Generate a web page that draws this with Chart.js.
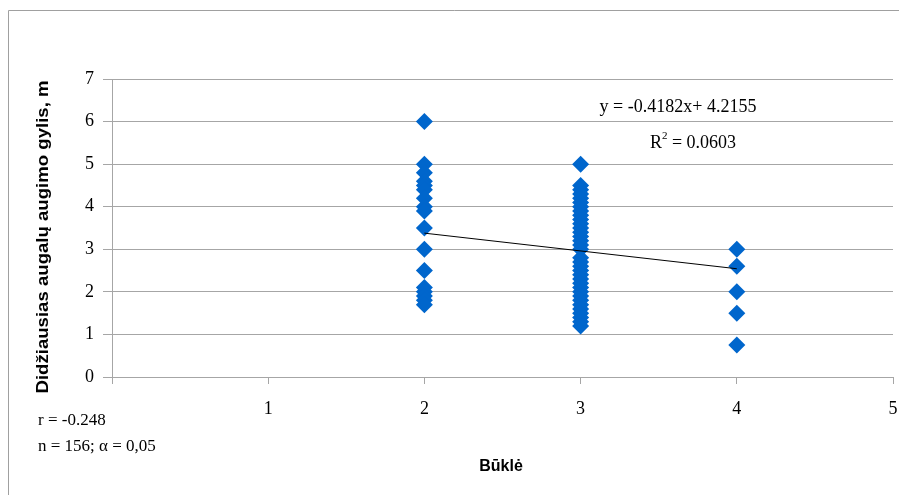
<!DOCTYPE html>
<html lang="lt">
<head>
  <meta charset="UTF-8">
  <title>Būklė ir augimo gylis</title>
  <script src="https://cdn.jsdelivr.net/npm/chart.js"></script>
  <style>
    html, body { margin: 0; padding: 0; background: #fff; }
    #wrap { width: 899px; height: 495px; position: relative; }
  </style>
</head>
<body>
<div id="wrap"><canvas id="chart" width="899" height="495"></canvas></div>

<script>
// values
const state2 = [6.0, 5.0, 4.8, 4.6, 4.5, 4.4, 4.2, 4.0, 3.9, 3.5, 3.0, 2.5, 2.1, 2.0, 1.9, 1.8, 1.7];
const state3 = [5.0, 4.5, 4.4, 4.3, 4.2, 4.1, 4.0, 3.9, 3.8, 3.7, 3.6, 3.5, 3.4, 3.3, 3.2, 3.1, 3.0,
                2.8, 2.7, 2.6, 2.5, 2.4, 2.3, 2.2, 2.1, 2.0, 1.9, 1.8, 1.7, 1.6, 1.5, 1.4, 1.3, 1.2];
const state4 = [3.0, 2.6, 2.0, 1.5, 0.75];
const trendX = [2, 4];
const trendY = [3.379, 2.543];   // y = -0.4182x + 4.2155
const xTicks = [1, 2, 3, 4, 5];
const yTicks = [0, 1, 2, 3, 4, 5, 6, 7];

const points = [];
state2.forEach(v => points.push({ x: 2, y: v }));
state3.forEach(v => points.push({ x: 3, y: v }));
state4.forEach(v => points.push({ x: 4, y: v }));
const trend = trendX.map((x, i) => ({ x: x, y: trendY[i] }));

const gridGray = '#a6a6a6';
const serif = '"Liberation Serif", "Times New Roman", serif';

const textPlugin = {
  id: 'texts',
  afterDraw(chart) {
    const ctx = chart.ctx;
    ctx.save();
    // outer frame
    ctx.strokeStyle = '#a0a0a0';
    ctx.lineWidth = 1;
    ctx.beginPath();
    ctx.moveTo(8.5, 500);
    ctx.lineTo(8.5, 10.5);
    ctx.lineTo(905, 10.5);
    ctx.stroke();

    ctx.fillStyle = '#000';
    // y axis title
    ctx.save();
    ctx.translate(44, 237);
    ctx.rotate(-Math.PI / 2);
    ctx.font = 'bold 16px "Liberation Sans", Arial, sans-serif';
    ctx.textAlign = 'center';
    ctx.textBaseline = 'middle';
    const yTitle = 'Didžiausias augalų augimo gylis, m';
    const w = ctx.measureText(yTitle).width;
    ctx.scale(313 / w, 1);
    ctx.fillText(yTitle, 0, 0);
    ctx.restore();

    // x axis title
    ctx.font = 'bold 16px "Liberation Sans", Arial, sans-serif';
    ctx.textAlign = 'center';
    ctx.textBaseline = 'middle';
    ctx.fillText('Būklė', 501, 467);

    // regression equation
    ctx.font = '18px ' + serif;
    ctx.fillText('y = -0.4182x+ 4.2155', 678, 107);
    // R² = 0.0603, built piecewise
    ctx.textAlign = 'left';
    const rest = ' = 0.0603';
    const wR = ctx.measureText('R').width;
    ctx.font = '11px ' + serif;
    const w2 = ctx.measureText('2').width;
    ctx.font = '18px ' + serif;
    const wRest = ctx.measureText(rest).width;
    let x0 = 693 - (wR + w2 + wRest) / 2;
    ctx.fillText('R', x0, 143);
    ctx.font = '11px ' + serif;
    ctx.fillText('2', x0 + wR, 136);
    ctx.font = '18px ' + serif;
    ctx.fillText(rest, x0 + wR + w2, 143);

    // statistics
    ctx.font = '17px ' + serif;
    ctx.fillText('r = -0.248', 38, 421);
    ctx.fillText('n = 156; α = 0,05', 38, 447);
    ctx.restore();
  }
};

new Chart(document.getElementById('chart').getContext('2d'), {
  type: 'scatter',
  data: {
    datasets: [
      {
        label: 'Gylis',
        data: points,
        pointStyle: 'rectRot',
        pointRadius: 8.5,
        pointBackgroundColor: '#0066cc',
        pointBorderColor: '#0066cc',
        pointBorderWidth: 0,
        order: 2
      },
      {
        label: 'Trend',
        type: 'line',
        data: trend,
        borderColor: '#000',
        borderWidth: 1,
        pointRadius: 0,
        fill: false,
        order: 1
      }
    ]
  },
  options: {
    responsive: false,
    animation: false,
    layout: { autoPadding: false, padding: { left: 0, top: 79, right: 6, bottom: 0 } },
    plugins: {
      legend: { display: false },
      tooltip: { enabled: false }
    },
    scales: {
      x: {
        type: 'linear',
        min: 0,
        max: 5,
        afterFit(scale) {
          scale.height = 118;
          scale.paddingLeft = 0;
          scale.paddingRight = 0;
        },
        afterBuildTicks(scale) { scale.ticks = [0].concat(xTicks).map(v => ({ value: v })); },
        ticks: {
          padding: 14,
          color: '#000',
          font: { family: serif, size: 18 },
          callback: v => (v === 0 ? '' : v)
        },
        grid: { drawOnChartArea: false, color: gridGray, tickLength: 7 },
        border: { color: gridGray }
      },
      y: {
        type: 'linear',
        min: 0,
        max: 7,
        afterFit(scale) {
          scale.width = 112;
          scale.paddingTop = 0;
          scale.paddingBottom = 0;
        },
        afterBuildTicks(scale) { scale.ticks = yTicks.map(v => ({ value: v })); },
        ticks: {
          padding: 9,
          color: '#000',
          font: { family: serif, size: 18 }
        },
        grid: { color: gridGray, tickLength: 9 },
        border: { color: gridGray }
      }
    }
  },
  plugins: [textPlugin]
});
</script>
</body>
</html>
